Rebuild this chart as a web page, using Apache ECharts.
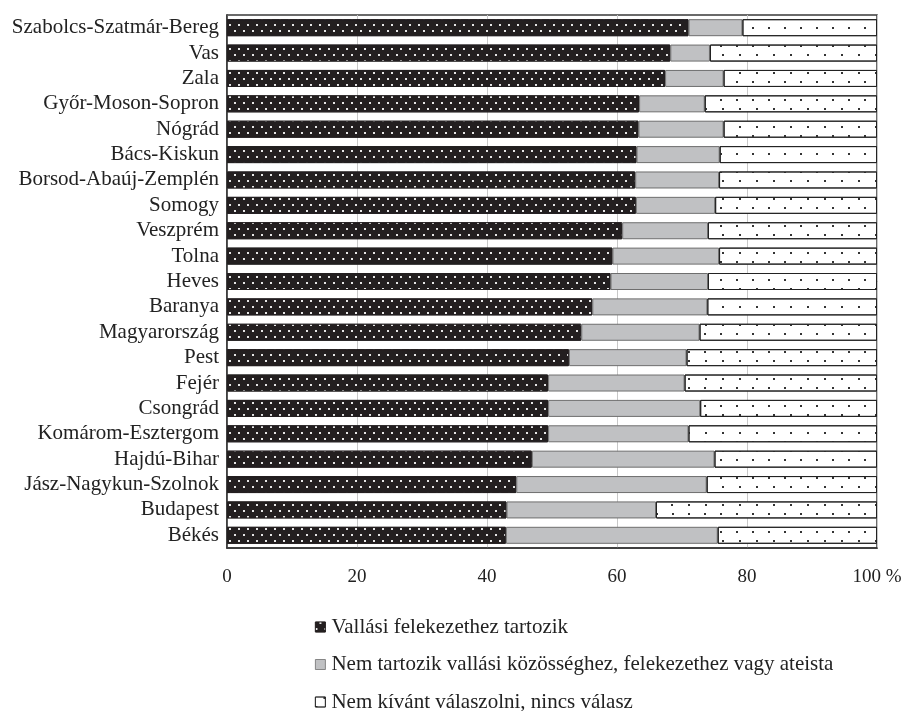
<!DOCTYPE html>
<html><head><meta charset="utf-8">
<script src="https://cdn.jsdelivr.net/npm/echarts@6/dist/echarts.min.js"></script>
<style>html,body{margin:0;padding:0;background:#fff}#c{width:917px;height:711px}</style>
</head><body><div id="c"></div>
<script>
const categories = ['Szabolcs-Szatmár-Bereg','Vas','Zala','Győr-Moson-Sopron','Nógrád','Bács-Kiskun','Borsod-Abaúj-Zemplén','Somogy','Veszprém','Tolna','Heves','Baranya','Magyarország','Pest','Fejér','Csongrád','Komárom-Esztergom','Hajdú-Bihar','Jász-Nagykun-Szolnok','Budapest','Békés'];
const belongs = [71.0,68.2,67.4,63.4,63.3,63.0,62.8,62.9,60.8,59.3,59.0,56.2,54.5,52.6,49.4,49.4,49.4,46.9,44.5,43.0,42.9];
const notBelong = [8.3,6.1,9.0,10.1,13.1,12.8,12.9,12.2,13.2,16.4,15.0,17.7,18.2,18.1,21.0,23.4,21.6,28.1,29.3,23.0,32.6];
const noAnswer = [20.7,25.7,23.6,26.5,23.6,24.2,24.3,24.9,26.0,24.3,26.0,26.1,27.3,29.3,29.6,27.2,29.0,25.0,26.2,34.0,24.5];
const seriesNames = ['Vallási felekezethez tartozik','Nem tartozik vallási közösséghez, felekezethez vagy ateista','Nem kívánt válaszolni, nincs válasz'];
const xTicks = [0,20,40,60,80,100];
const xTickLabels = ['0','20','40','60','80','100 %'];

const font = 'Liberation Serif';
const chart = echarts.init(document.getElementById('c'));
chart.setOption({
  animation:false,
  backgroundColor:'#fff',
  textStyle:{fontFamily:font},
  grid:{left:227,right:40,top:15,bottom:163,show:true,borderColor:'#3a3a3a',borderWidth:1.5,containLabel:false},
  legend:{
    orient:'vertical',left:315,top:616,height:110,padding:0,itemWidth:10,itemHeight:10,itemGap:15.5,
    icon:'rect',
    itemStyle:{borderWidth:0.8},
    textStyle:{fontFamily:font,fontSize:21,color:'#222',lineHeight:22,padding:[0,0,0,1]},
    data:seriesNames
  },
  xAxis:{
    type:'value',min:xTicks[0],max:xTicks[xTicks.length-1],interval:20,
    axisLine:{show:true,lineStyle:{color:'#333',width:1.5}},
    axisTick:{show:false},
    splitLine:{show:true,lineStyle:{color:'#c8c8c8',width:1}},
    axisLabel:{fontFamily:font,fontSize:19,color:'#222',margin:20,
      formatter:function(v){const i=xTicks.indexOf(v);return i>=0?xTickLabels[i]:String(v);}}
  },
  yAxis:{
    type:'category',data:categories,inverse:true,
    axisLine:{show:true,lineStyle:{color:'#333',width:1.5}},
    axisTick:{show:false},
    axisLabel:{fontFamily:font,fontSize:21,color:'#222',margin:8,interval:0}
  },
  series:[
    {name:seriesNames[0],type:'bar',stack:'t',data:belongs,barWidth:17,
     itemStyle:{color:'#231f20',borderColor:'#231f20',borderWidth:1,
       decal:{symbol:'rect',symbolSize:1,color:'#e6e6e6',dashArrayX:[[1.4,6.3],[0,3.85,1.4,2.45]],dashArrayY:[1.4,3.6]}}},
    {name:seriesNames[1],type:'bar',stack:'t',data:notBelong,
     itemStyle:{color:'#c0c1c3',borderColor:'#6e6e6e',borderWidth:1}},
    {name:seriesNames[2],type:'bar',stack:'t',data:noAnswer,
     itemStyle:{color:'#ffffff',borderColor:'#222',borderWidth:1,
       decal:{symbol:'rect',symbolSize:1,color:'#333',dashArrayX:[[1.4,13.6],[0,7.5,1.4,6.1]],dashArrayY:[1.4,6.6]}}}
  ]
});
</script></body></html>
